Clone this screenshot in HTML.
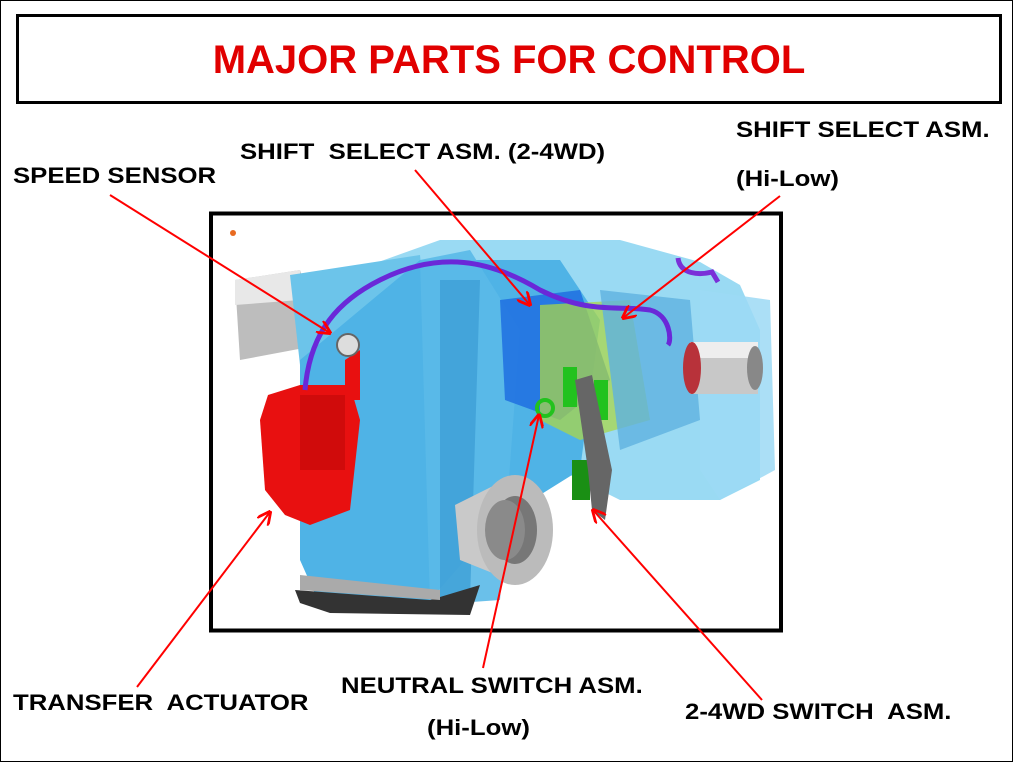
<!DOCTYPE html>
<html><head><meta charset="utf-8"><style>
html,body{margin:0;padding:0;background:#fff}
body{width:1013px;height:762px;position:relative;overflow:hidden;font-family:"Liberation Sans",Arial,sans-serif}
.frame{position:absolute;left:0;top:0;width:1011px;height:760px;border:1px solid #000}
.title{position:absolute;left:16px;top:14px;width:980px;height:84px;border:3px solid #000;color:#e10000;font-weight:bold;font-size:40px;text-align:center;line-height:86px}
.lbl{position:absolute;font-weight:bold;font-size:22px;color:#000;white-space:pre;line-height:26px;transform:scaleX(1.17);transform-origin:0 0}
svg{position:absolute;left:0;top:0}
</style></head><body>
<div class="frame"></div>
<div class="title">MAJOR PARTS FOR CONTROL</div>
<svg width="1013" height="762" viewBox="0 0 1013 762">
<defs><marker id="a" viewBox="0 0 10 10" refX="9" refY="5" markerWidth="7" markerHeight="7" orient="auto"><path d="M0 0 L10 5 L0 10" fill="none" stroke="#f00" stroke-width="2"/></marker></defs>
<rect x="211" y="213.5" width="570" height="417" fill="#fff" stroke="#000" stroke-width="4"/>
<circle cx="233" cy="233" r="3" fill="#e86a20"/>
<path d="M300 290 L440 240 L620 240 L700 262 L740 285 L760 330 L760 480 L720 500 L620 500 L560 470 Z" fill="#8fd6f2" opacity="0.9"/>
<path d="M235 280 L300 270 L320 345 L240 360 Z" fill="#bdbdbd"/>
<path d="M235 280 L300 270 L300 300 L235 305 Z" fill="#e8e8e8"/>
<path d="M290 275 L420 255 L430 360 L300 365 Z" fill="#6cc4ea"/>
<path d="M300 360 L420 260 L560 260 L600 320 L580 470 L500 520 L430 600 L320 605 L300 560 Z" fill="#4fb3e6"/>
<path d="M420 260 L470 250 L520 330 L500 600 L430 605 Z" fill="#5ab9e8" opacity="0.9"/>
<path d="M440 280 L480 280 L470 600 L440 600 Z" fill="#3d9fd6" opacity="0.8"/>
<path d="M500 300 L580 290 L610 380 L560 420 L505 400 Z" fill="#1f6fe0" opacity="0.85"/>
<path d="M540 305 L630 300 L650 420 L580 440 L540 420 Z" fill="#a9d64a" opacity="0.75"/>
<path d="M600 290 L690 300 L700 420 L620 450 Z" fill="#5fb2e0" opacity="0.8"/>
<path d="M700 290 L770 300 L775 470 L720 500 L700 470 Z" fill="#9cd9f4" opacity="0.85"/>
<rect x="690" y="342" width="68" height="52" fill="#c8c8c8"/>
<rect x="690" y="342" width="68" height="16" fill="#eee"/>
<ellipse cx="692" cy="368" rx="9" ry="26" fill="#b8323a"/>
<ellipse cx="755" cy="368" rx="8" ry="22" fill="#888"/>
<path d="M268 395 L300 385 L350 385 L360 420 L350 510 L310 525 L285 515 L265 490 L260 420 Z" fill="#e81010"/>
<path d="M345 360 L360 350 L360 400 L345 400 Z" fill="#e81010"/>
<path d="M300 395 L345 395 L345 470 L300 470 Z" fill="#c00808" opacity="0.6"/>
<path d="M305 390 C310 330 340 300 380 280 C440 250 490 260 540 290 C590 315 620 305 650 310 C670 315 672 340 668 345" fill="none" stroke="#6a28d8" stroke-width="5"/>
<path d="M678 258 C680 275 700 275 712 272 L718 282" fill="none" stroke="#7a30d8" stroke-width="5"/>
<circle cx="348" cy="345" r="11" fill="#ddd" stroke="#666" stroke-width="2"/>
<path d="M295 590 L430 600 L480 585 L470 615 L330 613 L300 603 Z" fill="#333"/>
<path d="M300 575 L440 590 L440 600 L300 590 Z" fill="#aaa"/>
<path d="M455 505 L505 480 L510 580 L460 560 Z" fill="#c9c9c9"/>
<ellipse cx="515" cy="530" rx="38" ry="55" fill="#bbb"/>
<ellipse cx="515" cy="530" rx="22" ry="34" fill="#777"/>
<ellipse cx="505" cy="530" rx="20" ry="30" fill="#8a8a8a"/>
<rect x="563" y="367" width="14" height="40" fill="#22c21e"/>
<rect x="594" y="380" width="14" height="40" fill="#22c21e"/>
<circle cx="545" cy="408" r="8" fill="none" stroke="#22c21e" stroke-width="4"/>
<rect x="572" y="460" width="18" height="40" fill="#1a8f14"/>
<path d="M575 380 L592 375 L612 470 L605 520 L592 510 L588 470 Z" fill="#666"/>
<g stroke="#ff0000" stroke-width="2" fill="none" marker-end="url(#a)">
<line x1="110" y1="195" x2="330" y2="333"/>
<line x1="415" y1="170" x2="530" y2="305"/>
<line x1="780" y1="196" x2="623" y2="318"/>
<line x1="137" y1="687" x2="270" y2="512"/>
<line x1="483" y1="668" x2="539" y2="415"/>
<line x1="762" y1="700" x2="593" y2="510"/>
</g>
</svg>
<div class="lbl" style="left:13px;top:163px">SPEED SENSOR</div>
<div class="lbl" style="left:240px;top:139px">SHIFT  SELECT ASM. (2-4WD)</div>
<div class="lbl" style="left:736px;top:117px">SHIFT SELECT ASM.</div>
<div class="lbl" style="left:736px;top:166px">(Hi-Low)</div>
<div class="lbl" style="left:13px;top:690px">TRANSFER  ACTUATOR</div>
<div class="lbl" style="left:341px;top:673px">NEUTRAL SWITCH ASM.</div>
<div class="lbl" style="left:427px;top:715px">(Hi-Low)</div>
<div class="lbl" style="left:685px;top:699px">2-4WD SWITCH  ASM.</div>
</body></html>
